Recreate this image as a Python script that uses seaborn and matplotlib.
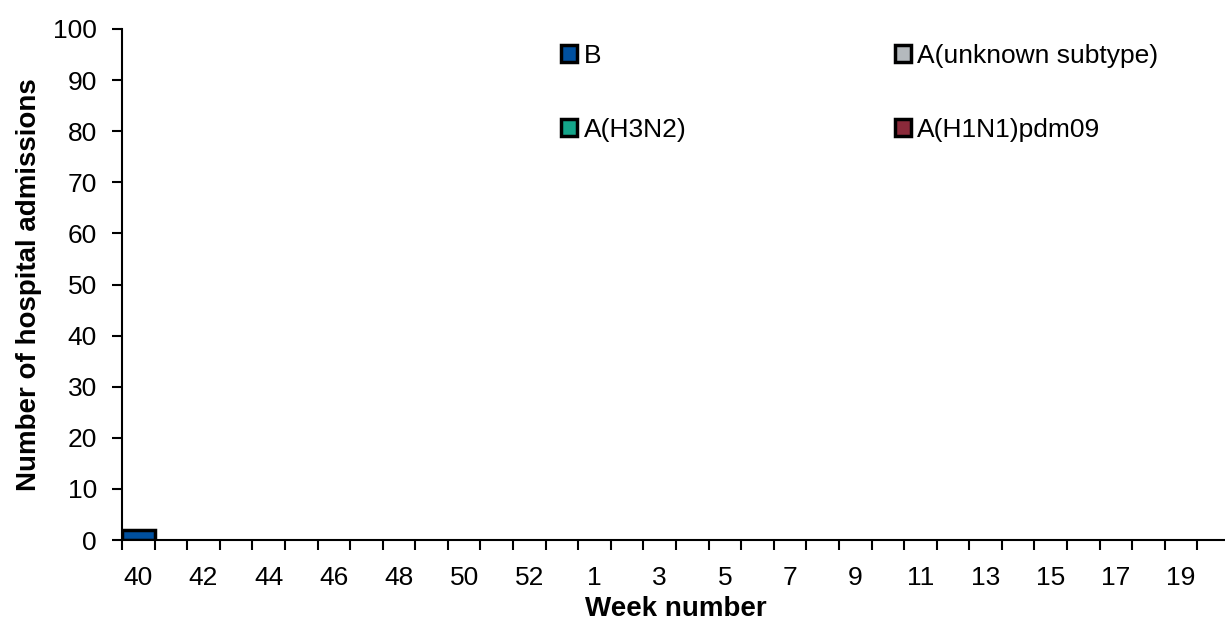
import pandas as pd
import matplotlib
matplotlib.use("Agg")
import matplotlib.pyplot as plt
from matplotlib.patches import Patch
import seaborn as sns

# week numbers of the season (2020 had a week 53)
weeks = [40, 41, 42, 43, 44, 45, 46, 47, 48, 49, 50, 51, 52, 53,
         1, 2, 3, 4, 5, 6, 7, 8, 9, 10, 11, 12, 13, 14, 15, 16, 17, 18, 19, 20]
# admissions per subtype
h1n1 = [0] * 34
h3n2 = [0] * 34
unknown = [0] * 34
b_vals = [2, 0, 0, 0, 0, 0, 0, 0, 0, 0, 0, 0, 0, 0,
          0, 0, 0, 0, 0, 0, 0, 0, 0, 0, 0, 0, 0, 0, 0, 0, 0, 0, 0, 0]

series = ["A(H1N1)pdm09", "A(H3N2)", "A(unknown subtype)", "B"]
colours = {"A(H1N1)pdm09": "#8b2a3a", "A(H3N2)": "#14a58a",
           "A(unknown subtype)": "#b4b9bd", "B": "#00509f"}

data = pd.DataFrame({"week": [str(w) for w in weeks],
                     "A(H1N1)pdm09": h1n1, "A(H3N2)": h3n2,
                     "A(unknown subtype)": unknown, "B": b_vals})
# cumulative totals so the stack can be drawn tallest first
cum = data[series].cumsum(axis=1)

sns.set_style("white")
plt.rcParams["font.family"] = ["Liberation Sans", "DejaVu Sans"]
plt.rcParams["text.color"] = "black"
plt.rcParams["axes.labelcolor"] = "black"
plt.rcParams["xtick.color"] = "black"
plt.rcParams["ytick.color"] = "black"

fs = 19
fs_label = 20

fig = plt.figure(figsize=(12.25, 6.28), dpi=100)
ax = fig.add_axes([122 / 1225, 88 / 628, 1108 / 1225, 511 / 628])

for s in reversed(series):
    sns.barplot(x=data["week"], y=cum[s], color=colours[s], width=1.0,
                edgecolor="black", linewidth=2.5, saturation=1, ax=ax,
                order=list(data["week"]))

# zero height bars should not leave a black line on the axis
for p in ax.patches:
    if p.get_height() == 0:
        p.set_linewidth(0)

ax.set_xlim(-0.5, len(weeks) - 0.5)
ax.set_ylim(0, 100)
ax.set_yticks(range(0, 101, 10))

ax.set_xticks(range(0, len(weeks), 2))
ax.set_xticklabels([str(w) for w in weeks[::2]])
ax.set_xticks([i - 0.5 for i in range(len(weeks) + 1)], minor=True)
ax.tick_params(axis="x", which="major", length=0, pad=19, labelsize=fs)
ax.tick_params(axis="x", which="minor", length=7, width=1.5,
               direction="out", bottom=True)
ax.tick_params(axis="y", length=7, width=1.5, direction="out",
               left=True, labelsize=fs, pad=11)

for side in ["top", "right"]:
    ax.spines[side].set_visible(False)
for side in ["left", "bottom"]:
    ax.spines[side].set_color("black")
    ax.spines[side].set_linewidth(1.5)

ax.set_xlabel("Week number", fontsize=fs_label, fontweight="bold", labelpad=4)
ax.set_ylabel("Number of hospital admissions", fontsize=fs_label,
              fontweight="bold", labelpad=8)

legend_order = ["B", "A(H3N2)", "A(unknown subtype)", "A(H1N1)pdm09"]
handles = [Patch(facecolor=colours[s], edgecolor="black", linewidth=2.5, label=s)
           for s in legend_order]
ax.legend(handles=handles, ncol=2, frameon=False, fontsize=fs,
          loc="upper left", bbox_to_anchor=(0.375, 1.017),
          handlelength=0.6, handleheight=0.6, handletextpad=0.25,
          columnspacing=7.9, labelspacing=1.88)

fig.savefig("out.png", dpi=100)
